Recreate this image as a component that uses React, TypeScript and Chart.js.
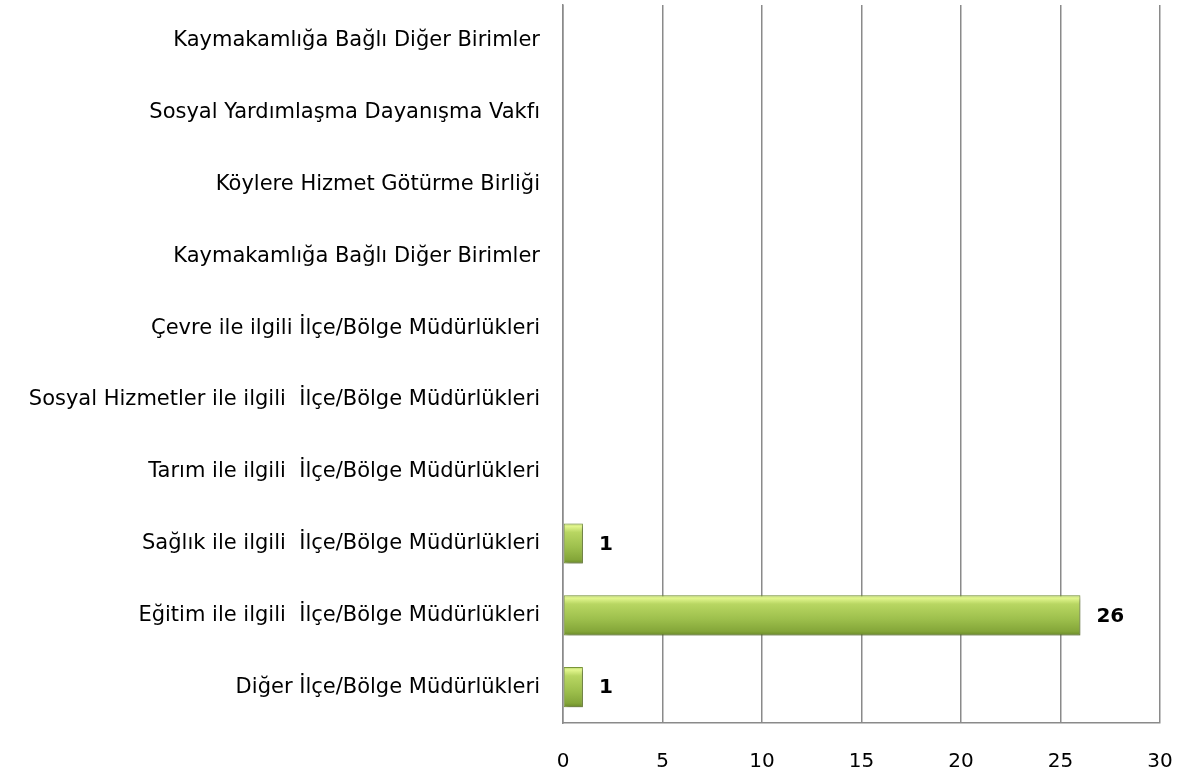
import React, { useEffect, useRef } from "react";
import { Chart, registerables } from "chart.js";

Chart.register(...registerables);

const categories: string[] = [
  "Kaymakamlığa Bağlı Diğer Birimler",
  "Sosyal Yardımlaşma Dayanışma Vakfı",
  "Köylere Hizmet Götürme Birliği",
  "Kaymakamlığa Bağlı Diğer Birimler",
  "Çevre ile ilgili İlçe/Bölge Müdürlükleri",
  "Sosyal Hizmetler ile ilgili  İlçe/Bölge Müdürlükleri",
  "Tarım ile ilgili  İlçe/Bölge Müdürlükleri",
  "Sağlık ile ilgili  İlçe/Bölge Müdürlükleri",
  "Eğitim ile ilgili  İlçe/Bölge Müdürlükleri",
  "Diğer İlçe/Bölge Müdürlükleri",
];
const values: number[] = [0, 0, 0, 0, 0, 0, 0, 1, 26, 1];
const xTicks: number[] = [0, 5, 10, 15, 20, 25, 30];

const FONT = "'DejaVu Sans', sans-serif";

export default function App() {
  const ref = useRef<HTMLCanvasElement | null>(null);
  useEffect(() => {
    if (!ref.current) return;
    const valueLabels = {
      id: "valueLabels",
      afterDatasetsDraw(chart: any) {
        const ctx = chart.ctx;
        const meta = chart.getDatasetMeta(0);
        ctx.save();
        ctx.font = `bold 20px ${FONT}`;
        ctx.fillStyle = "#000";
        ctx.textAlign = "left";
        ctx.textBaseline = "middle";
        meta.data.forEach((el: any, i: number) => {
          const v = values[i];
          if (!v) return;
          ctx.fillText(String(v), el.x + 16, el.y + 1);
        });
        ctx.restore();
      },
    };
    const shadow = {
      id: "barShadow",
      beforeDatasetDraw(chart: any) {
        const ctx = chart.ctx;
        ctx.save();
        ctx.shadowColor = "rgba(0,0,0,0.35)";
        ctx.shadowBlur = 4;
        ctx.shadowOffsetX = 2;
        ctx.shadowOffsetY = 2;
      },
      afterDatasetDraw(chart: any) {
        chart.ctx.restore();
      },
    };
    const chart = new Chart(ref.current, {
      type: "bar",
      data: {
        labels: categories,
        datasets: [
          {
            data: values,
            backgroundColor: (c: any) => {
              const chartObj = c.chart;
              const y = chartObj.scales?.y;
              if (!y || c.dataIndex === undefined) return "#9bbb59";
              const cy = y.getPixelForValue(c.dataIndex);
              if (!Number.isFinite(cy)) return "#9bbb59";
              const h = 20;
              const g = chartObj.ctx.createLinearGradient(0, cy - h, 0, cy + h);
              g.addColorStop(0, "#b9d46c");
              g.addColorStop(0.07, "#e2f68e");
              g.addColorStop(0.22, "#b8d662");
              g.addColorStop(0.6, "#9dbf4c");
              g.addColorStop(0.9, "#84a639");
              g.addColorStop(1, "#6b8a2a");
              return g;
            },
            borderColor: "#7d9a3a",
            borderWidth: 1,
            borderSkipped: false,
            barPercentage: 0.56,
            categoryPercentage: 1,
          },
        ],
      },
      options: {
        indexAxis: "y",
        animation: false,
        responsive: true,
        maintainAspectRatio: false,
        layout: { padding: { top: 5, right: 24, left: 0, bottom: 0 } },
        plugins: { legend: { display: false }, tooltip: { enabled: false } },
        scales: {
          x: {
            min: 0,
            max: 30,
            afterBuildTicks: (s: any) => {
              s.ticks = xTicks.map((v) => ({ value: v }));
            },
            afterFit: (s: any) => {
              s.height = 53;
              s.paddingLeft = 0;
              s.paddingRight = 0;
              s.paddingTop = 0;
              s.paddingBottom = 0;
            },
            grid: { color: "#8a8a8a", lineWidth: 1.5, drawTicks: false },
            border: { display: true, color: "#8a8a8a", width: 1.5 },
            ticks: {
              color: "#000",
              padding: 27,
              font: { family: FONT, size: 20 },
            },
          },
          y: {
            afterFit: (s: any) => {
              s.width = 563;
              s.paddingLeft = 0;
              s.paddingRight = 0;
              s.paddingTop = 0;
              s.paddingBottom = 0;
            },
            grid: { display: false, drawTicks: false },
            border: { display: true, color: "#8a8a8a", width: 1.5 },
            ticks: {
              color: "#000",
              padding: 23,
              autoSkip: false,
              font: { family: FONT, size: 21 },
            },
          },
        },
      },
      plugins: [shadow, valueLabels],
    });
    return () => chart.destroy();
  }, []);
  return (
    <div style={{ position: "absolute", left: 0, top: 0, width: 1184, height: 776 }}>
      <canvas ref={ref} />
    </div>
  );
}
